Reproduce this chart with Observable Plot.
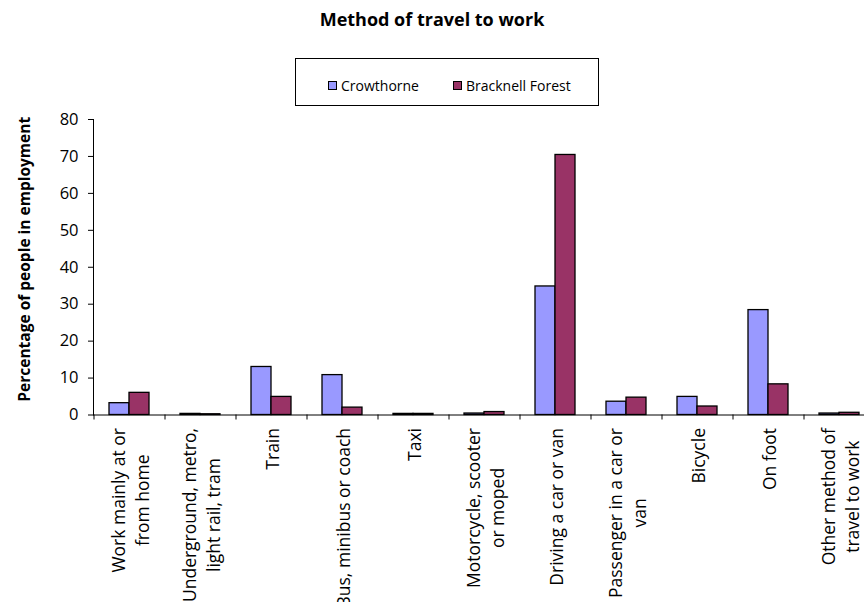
<!DOCTYPE html>
<html>
<head>
<meta charset="utf-8">
<script src="https://cdn.jsdelivr.net/npm/d3@7"></script>
<script src="https://cdn.jsdelivr.net/npm/@observablehq/plot@0.6"></script>
<style>
  html, body { margin: 0; padding: 0; background: #fff; }
  body { font-family: "Open Sans", sans-serif; width: 864px; height: 602px; overflow: hidden; }
  #header { position: relative; height: 100px; width: 864px; }
  #title { position: absolute; left: 0; width: 864px; top: 6px; text-align: center; font-weight: bold; font-size: 18px; line-height: 26px; color: #000; }
  #legend { position: absolute; left: 295px; top: 58px; width: 304px; height: 48px; border: 1px solid #000; box-sizing: border-box; background: #fff; z-index: 2; }
  .item { position: absolute; top: 17px; font-size: 14px; line-height: 20px; color: #000; white-space: nowrap; }
  .sw { display: inline-block; width: 7px; height: 7px; border: 1px solid #000; margin-right: 4px; vertical-align: 1px; }
  #chart svg { display: block; max-width: none; }
</style>
</head>
<body>
<div id="header">
  <div id="title">Method of travel to work</div>
  <div id="legend"></div>
</div>
<div id="chart"></div>
<script>
const categories = [
  "Work mainly at or\nfrom home",
  "Underground, metro,\nlight rail, tram",
  "Train",
  "Bus, minibus or coach",
  "Taxi",
  "Motorcycle, scooter\nor moped",
  "Driving a car or van",
  "Passenger in a car or\nvan",
  "Bicycle",
  "On foot",
  "Other method of\ntravel to work"
];
const seriesNames = ["Crowthorne", "Bracknell Forest"];
const seriesColors = ["#9999FF", "#993366"];
const crowthorne = [3.2, 0.3, 13.0, 10.8, 0.3, 0.4, 34.8, 3.6, 4.9, 28.4, 0.4];
const bracknell  = [6.0, 0.2, 4.9, 2.0, 0.3, 0.8, 70.4, 4.7, 2.3, 8.3, 0.6];
const yTicks = [0, 10, 20, 30, 40, 50, 60, 70, 80];
const yLabel = "Percentage of people in employment";

// legend
const legend = document.getElementById("legend");
const legendPos = [32, 157];
seriesNames.forEach((name, i) => {
  const el = document.createElement("div");
  el.className = "item";
  el.style.left = legendPos[i] + "px";
  el.innerHTML = `<span class="sw" style="background:${seriesColors[i]}"></span>${name}`;
  legend.appendChild(el);
});

const rows = [];
categories.forEach((c, i) => {
  rows.push({cat: c, series: seriesNames[0], value: crowthorne[i]});
  rows.push({cat: c, series: seriesNames[1], value: bracknell[i]});
});

const W = 864, H = 502;
const left = 93, right = 874;
const step = (right - left) / categories.length;
const pad = 31 / 71;
const labelFont = 17.5;

// measure the longest line of each category label so lines centre under each other
const ctx = document.createElement("canvas").getContext("2d");
ctx.font = `${labelFont}px "Open Sans"`;
const longest = c => Math.max(...c.split("\n").map(s => ctx.measureText(s).width));

const labelMarks = categories.map(c => Plot.text([c], {
  x: d => d, text: d => d, frameAnchor: "bottom", rotate: -90,
  textAnchor: "middle", lineAnchor: "middle", dy: 13 + longest(c) / 2,
  fontSize: labelFont, lineHeight: 1.33, fill: "#000"
}));

const chart = Plot.plot({
  width: W,
  height: H,
  marginLeft: left,
  marginRight: 0,
  marginTop: 19,
  marginBottom: 187.5,
  style: {fontFamily: "'Open Sans', sans-serif", fontSize: "16px", color: "#000", background: "#fff"},
  x: {domain: categories, range: [left, right], paddingInner: pad, paddingOuter: pad / 2, axis: null},
  y: {domain: [0, 80], axis: null},
  color: {domain: seriesNames, range: seriesColors},
  marks: [
    Plot.barY(rows.filter(d => d.series === seriesNames[0]), {
      x: "cat", y: "value", fill: "series", stroke: "#000", strokeWidth: 1.3, insetRight: 20
    }),
    Plot.barY(rows.filter(d => d.series === seriesNames[1]), {
      x: "cat", y: "value", fill: "series", stroke: "#000", strokeWidth: 1.3, insetLeft: 20
    }),
    Plot.ruleY([0], {stroke: "#000", strokeWidth: 1}),
    Plot.frame({anchor: "left", stroke: "#000", strokeWidth: 1}),
    Plot.axisY({ticks: yTicks, tickSize: 5, tickPadding: 10, fontSize: 16.5, stroke: "#000", label: null}),
    Plot.axisX({tickSize: 5, text: null, dx: -step / 2, stroke: "#000", label: null}),
    ...labelMarks,
    Plot.text([yLabel], {
      text: d => d, frameAnchor: "left", rotate: -90, textAnchor: "middle", lineAnchor: "top",
      dx: -75, dy: -8, fontWeight: "bold", fontSize: 15.5, fill: "#000"
    })
  ]
});
document.getElementById("chart").appendChild(chart);
</script>
</body>
</html>
